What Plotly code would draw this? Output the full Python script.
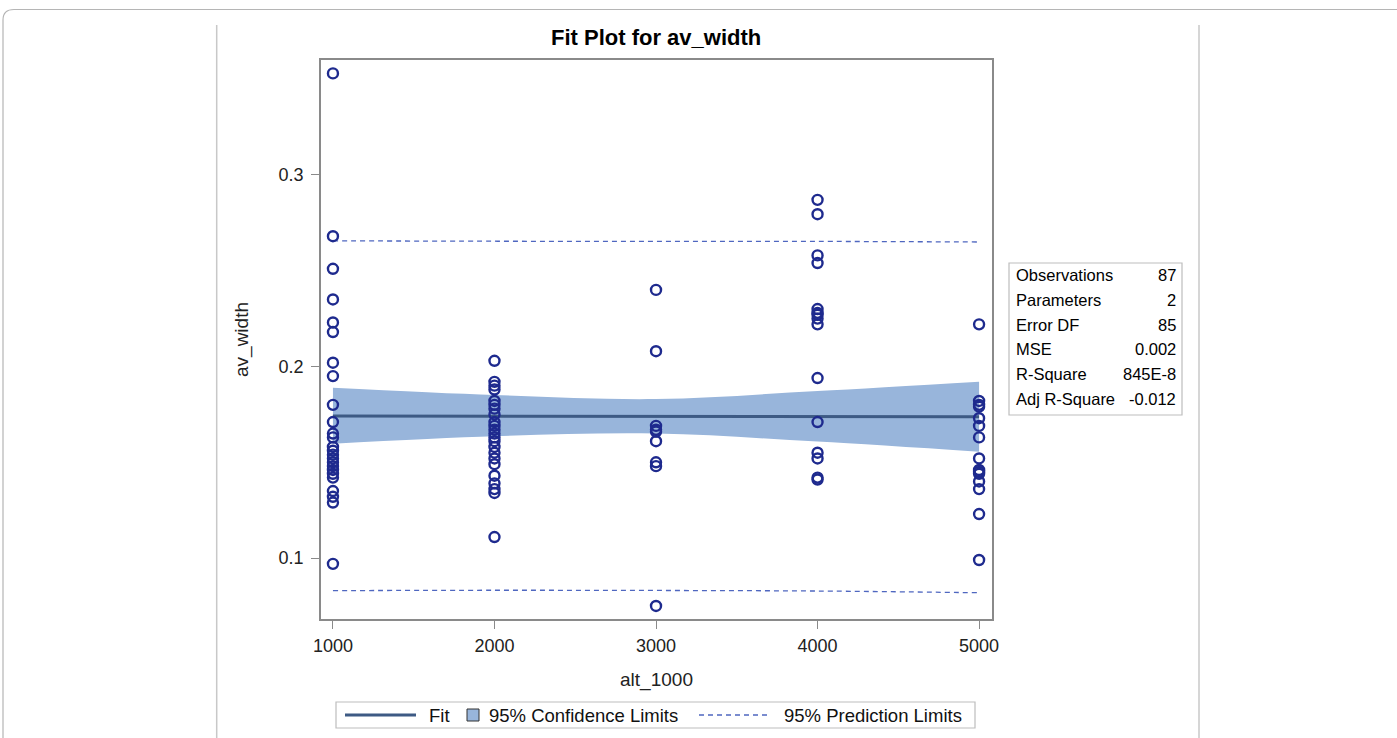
import plotly.graph_objects as go

# Observed av_width values grouped by alt_1000 level
ALT_LEVELS = [1000, 2000, 3000, 4000, 5000]
WIDTH_1000 = [0.353, 0.268, 0.251, 0.235, 0.223, 0.218, 0.202, 0.195, 0.180, 0.171,
              0.165, 0.163, 0.158, 0.156, 0.154, 0.152, 0.150, 0.148, 0.146, 0.144,
              0.142, 0.135, 0.132, 0.129, 0.097]
WIDTH_2000 = [0.203, 0.192, 0.190, 0.188, 0.182, 0.180, 0.178, 0.175, 0.171, 0.169,
              0.167, 0.165, 0.163, 0.161, 0.158, 0.155, 0.152, 0.149, 0.143, 0.139,
              0.136, 0.134, 0.111]
WIDTH_3000 = [0.240, 0.208, 0.169, 0.167, 0.166, 0.161, 0.150, 0.148, 0.075]
WIDTH_4000 = [0.287, 0.2795, 0.258, 0.254, 0.230, 0.228, 0.227, 0.225, 0.222, 0.194,
              0.171, 0.155, 0.152, 0.142, 0.141]
WIDTH_5000 = [0.222, 0.182, 0.180, 0.179, 0.173, 0.169, 0.163, 0.152, 0.146, 0.145,
              0.144, 0.140, 0.136, 0.123, 0.099]

# Fitted line, confidence and prediction limits at each alt_1000 level
FIT = [0.1742, 0.1741, 0.1740, 0.1739, 0.1738]
CLM_UPPER = [0.1889, 0.1851, 0.1830, 0.1872, 0.1921]
CLM_LOWER = [0.1597, 0.1636, 0.1650, 0.1608, 0.1555]
PLM_UPPER = [0.2656, 0.2654, 0.2653, 0.2653, 0.2650]
PLM_LOWER = [0.0830, 0.0832, 0.0831, 0.0828, 0.0819]

# Fit statistics table
STAT_LABELS = ["Observations", "Parameters", "Error DF", "MSE", "R-Square", "Adj R-Square"]
STAT_VALUES = ["87", "2", "85", "0.002", "845E-8", "-0.012"]

TITLE = "Fit Plot for av_width"
X_TITLE = "alt_1000"
Y_TITLE = "av_width"

FONT = "Liberation Sans, Arial, sans-serif"
MARKER_COLOR = "#1E2A8E"
BAND_COLOR = "#98B5DB"
FIT_COLOR = "#3D5A84"
PRED_COLOR = "#4F67C0"
FRAME_COLOR = "#8A8A8A"

W, H = 1397, 738
L, R, T, B = 321, 992, 60, 619


def px(x):
    return (x - L) / (R - L)


def py(y):
    return (B - y) / (B - T)


groups = [WIDTH_1000, WIDTH_2000, WIDTH_3000, WIDTH_4000, WIDTH_5000]
obs_x, obs_y = [], []
for lvl, vals in zip(ALT_LEVELS, groups):
    obs_x += [lvl] * len(vals)
    obs_y += vals

fig = go.Figure()

# confidence band
fig.add_trace(go.Scatter(x=ALT_LEVELS, y=CLM_UPPER, mode="lines", line=dict(width=0, shape="spline", color=BAND_COLOR),
                         showlegend=False, hoverinfo="skip"))
fig.add_trace(go.Scatter(x=ALT_LEVELS, y=CLM_LOWER, mode="lines", line=dict(width=0, shape="spline", color=BAND_COLOR),
                         fill="tonexty", fillcolor=BAND_COLOR, showlegend=False, hoverinfo="skip"))
# fit line
fig.add_trace(go.Scatter(x=ALT_LEVELS, y=FIT, mode="lines", line=dict(width=3, color=FIT_COLOR),
                         showlegend=False))
# prediction limits
for lim in (PLM_UPPER, PLM_LOWER):
    fig.add_trace(go.Scatter(x=ALT_LEVELS, y=lim, mode="lines",
                             line=dict(width=1.3, color=PRED_COLOR, dash="5px,4px", shape="spline"),
                             showlegend=False))
# observations
fig.add_trace(go.Scatter(x=obs_x, y=obs_y, mode="markers",
                         marker=dict(symbol="circle-open", size=10, color=MARKER_COLOR,
                                     line=dict(width=2.4, color=MARKER_COLOR)),
                         showlegend=False))

axis_common = dict(showgrid=False, zeroline=False, showline=True, mirror=True, linecolor=FRAME_COLOR,
                   linewidth=1.5, ticks="outside", ticklen=8, tickcolor=FRAME_COLOR, tickwidth=1,
                   tickfont=dict(family=FONT, size=18, color="#222"))

fig.update_layout(
    width=W, height=H,
    margin=dict(l=L, r=W - R, t=T, b=H - B),
    paper_bgcolor="white", plot_bgcolor="white",
    xaxis=dict(range=[926, 5080], tickvals=ALT_LEVELS, ticktext=[str(v) for v in ALT_LEVELS],
               ticklabelstandoff=2,
               title=dict(text=X_TITLE, font=dict(family=FONT, size=19, color="#222"), standoff=17),
               **axis_common),
    yaxis=dict(range=[0.0682, 0.3600], tickvals=[0.1, 0.2, 0.3], ticktext=["0.1", "0.2", "0.3"],
               ticklabelstandoff=4,
               title=dict(text=Y_TITLE, font=dict(family=FONT, size=19, color="#222"), standoff=25),
               **axis_common),
    showlegend=False,
)

shapes = []
annotations = []

# title
annotations.append(dict(text="<b>" + TITLE + "</b>", x=px(656), y=py(38), xref="paper", yref="paper",
                        showarrow=False, font=dict(family=FONT, size=22, color="#000"),
                        xanchor="center", yanchor="middle"))

# page frame lines
shapes.append(dict(type="path", xref="paper", yref="paper",
                   path=f"M {px(3)},{py(738)} L {px(3)},{py(20)} Q {px(3)},{py(9.5)} {px(14)},{py(9.5)} L {px(1397)},{py(9.5)}",
                   line=dict(color="#B5B5B5", width=1.2)))
for xv in (216.7, 1199):
    shapes.append(dict(type="line", xref="paper", yref="paper", x0=px(xv), x1=px(xv), y0=py(25), y1=py(738),
                       line=dict(color="#C8C8C8", width=1.5)))

# statistics table
shapes.append(dict(type="rect", xref="paper", yref="paper", x0=px(1009), x1=px(1182), y0=py(263), y1=py(415),
                   line=dict(color="#BDBDBD", width=1.2), fillcolor="white"))
for i, (lab, val) in enumerate(zip(STAT_LABELS, STAT_VALUES)):
    yc = 275 + i * 24.8
    annotations.append(dict(text=lab, x=px(1014), y=py(yc), xref="paper", yref="paper", showarrow=False,
                            xanchor="left", yanchor="middle", font=dict(family=FONT, size=16.5, color="#000")))
    annotations.append(dict(text=val, x=px(1178), y=py(yc), xref="paper", yref="paper", showarrow=False,
                            xanchor="right", yanchor="middle", font=dict(family=FONT, size=16.5, color="#000")))

# legend
ly = 715
shapes.append(dict(type="rect", xref="paper", yref="paper", x0=px(336), x1=px(975), y0=py(702), y1=py(728),
                   line=dict(color="#BDBDBD", width=1.2), fillcolor="white"))
shapes.append(dict(type="line", xref="paper", yref="paper", x0=px(345), x1=px(416), y0=py(ly), y1=py(ly),
                   line=dict(color=FIT_COLOR, width=3)))
shapes.append(dict(type="rect", xref="paper", yref="paper", x0=px(467), x1=px(479), y0=py(709), y1=py(721),
                   line=dict(color="#333", width=1), fillcolor=BAND_COLOR))
shapes.append(dict(type="line", xref="paper", yref="paper", x0=px(699), x1=px(768), y0=py(ly), y1=py(ly),
                   line=dict(color=PRED_COLOR, width=1.3, dash="5px,4px")))
for txt, xl in (("Fit", 427), ("95% Confidence Limits", 487), ("95% Prediction Limits", 782)):
    annotations.append(dict(text=txt, x=px(xl), y=py(ly), xref="paper", yref="paper", showarrow=False,
                            xanchor="left", yanchor="middle", font=dict(family=FONT, size=18.5, color="#111")))

fig.update_layout(shapes=shapes, annotations=annotations)

fig.write_html("out.html")
